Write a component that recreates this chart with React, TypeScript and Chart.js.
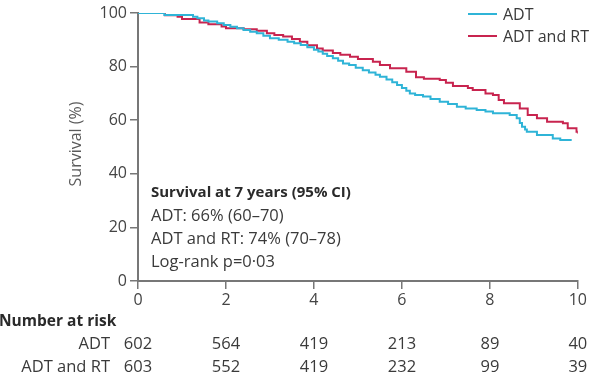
import React, { useEffect, useRef } from "react";
import { Chart, registerables } from "chart.js";

Chart.register(...registerables);

const seriesLabels = ["ADT", "ADT and RT"];
const seriesColors = ["#2fb4d7", "#c8244f"];

const adtTimes = [0, 0.6, 1.25, 1.35, 1.5, 1.6, 1.8, 1.95, 2.1, 2.25, 2.4, 2.55, 2.7, 2.85, 3.0, 3.2, 3.4, 3.55, 3.7, 3.85, 4.0, 4.1, 4.2, 4.3, 4.43, 4.55, 4.66, 4.8, 4.95, 5.11, 5.25, 5.4, 5.5, 5.65, 5.78, 5.89, 6.0, 6.1, 6.18, 6.3, 6.48, 6.65, 6.86, 7.05, 7.25, 7.45, 7.7, 7.9, 8.07, 8.45, 8.61, 8.68, 8.73, 8.8, 8.84, 9.07, 9.43, 9.6, 9.86];
const adtSurvival = [100, 99.3, 98.6, 98.0, 97.2, 96.8, 96.2, 95.5, 94.9, 94.3, 93.7, 93.0, 92.4, 91.5, 90.6, 90.0, 89.3, 88.7, 88.1, 87.2, 86.3, 85.6, 84.8, 84.0, 83.1, 82.2, 81.2, 80.6, 79.6, 78.6, 77.8, 77.0, 76.2, 75.2, 74.2, 73.1, 72.0, 71.0, 70.0, 69.4, 68.8, 67.9, 66.9, 66.0, 65.0, 64.4, 63.8, 63.2, 62.6, 61.9, 60.7, 59.0, 57.6, 56.5, 55.7, 54.5, 53.2, 52.6, 52.6];

const rtTimes = [0, 0.61, 0.9, 1.0, 1.4, 1.6, 1.9, 2.0, 2.4, 2.7, 2.93, 3.1, 3.3, 3.5, 3.68, 3.85, 4.07, 4.2, 4.43, 4.6, 4.82, 5.0, 5.34, 5.5, 5.73, 6.1, 6.32, 6.5, 6.86, 7.0, 7.16, 7.5, 7.61, 7.9, 8.07, 8.2, 8.32, 8.68, 8.86, 9.07, 9.3, 9.66, 9.77, 9.97, 10.0];
const rtSurvival = [100, 99.2, 98.6, 97.8, 96.5, 95.8, 95.0, 94.3, 93.9, 93.4, 92.4, 91.8, 91.2, 90.3, 89.3, 88.0, 86.8, 86.0, 85.1, 84.4, 83.7, 82.8, 81.8, 80.6, 79.4, 78.1, 76.0, 75.5, 75.0, 74.0, 72.8, 72.0, 71.3, 70.0, 69.4, 67.5, 66.3, 64.4, 61.9, 60.7, 59.4, 58.9, 57.0, 55.7, 55.0];

const xTickValues = [0, 2, 4, 6, 8, 10];
const riskAdt = [602, 564, 419, 213, 89, 40];
const riskRt = [603, 552, 419, 232, 99, 39];

const annotationTitle = "Survival at 7 years (95% CI)";
const annotationLines = ["ADT: 66% (60–70)", "ADT and RT: 74% (70–78)", "Log-rank p=0·03"];
const yAxisTitle = "Survival (%)";
const riskTitle = "Number at risk";

const FONT = "'Open Sans', sans-serif";
const TEXT = "#3a3a3a";

const overlayPlugin = {
  id: "overlay",
  afterDraw(chart: any) {
    const ctx = chart.ctx;
    const xs = chart.scales.x;
    ctx.save();
    // y axis title
    ctx.fillStyle = "#5a5a5a";
    ctx.font = `16px ${FONT}`;
    ctx.textAlign = "center";
    ctx.textBaseline = "middle";
    ctx.translate(76, 144);
    ctx.rotate(-Math.PI / 2);
    ctx.fillText(yAxisTitle, 0, 0);
    ctx.setTransform(1, 0, 0, 1, 0, 0);

    // legend
    const legendY = [14, 36];
    seriesLabels.forEach((lab, i) => {
      ctx.strokeStyle = seriesColors[i];
      ctx.lineWidth = 2;
      ctx.beginPath();
      ctx.moveTo(468, legendY[i]);
      ctx.lineTo(497, legendY[i]);
      ctx.stroke();
      ctx.fillStyle = TEXT;
      ctx.font = `16px ${FONT}`;
      ctx.textAlign = "left";
      ctx.textBaseline = "middle";
      ctx.fillText(lab, 503, legendY[i] + 1);
    });

    // annotation
    ctx.textAlign = "left";
    ctx.textBaseline = "middle";
    ctx.fillStyle = "#2a2a2a";
    ctx.font = `bold 15px ${FONT}`;
    ctx.fillText(annotationTitle, 151, 193);
    ctx.font = `16.5px ${FONT}`;
    ctx.fillStyle = TEXT;
    annotationLines.forEach((l, i) => ctx.fillText(l, 151, 216 + i * 23));

    // number at risk
    ctx.font = `bold 15.5px ${FONT}`;
    ctx.fillStyle = "#2a2a2a";
    ctx.fillText(riskTitle, -1, 322);
    ctx.font = `16.5px ${FONT}`;
    ctx.fillStyle = TEXT;
    ctx.textAlign = "right";
    ctx.fillText(seriesLabels[0], 110, 344);
    ctx.fillText(seriesLabels[1], 110, 367);
    ctx.textAlign = "center";
    xTickValues.forEach((t, i) => {
      const px = xs.getPixelForValue(t);
      ctx.fillText(String(riskAdt[i]), px, 344);
      ctx.fillText(String(riskRt[i]), px, 367);
    });
    ctx.restore();
  },
};

export default function App() {
  const ref = useRef<HTMLCanvasElement>(null);
  useEffect(() => {
    document.body.style.margin = "0";
    const canvas = ref.current!;
    const chart = new Chart(canvas, {
      type: "line",
      data: {
        datasets: [
          {
            label: seriesLabels[0],
            data: adtTimes.map((t, i) => ({ x: t, y: adtSurvival[i] })),
            borderColor: seriesColors[0],
            borderWidth: 2,
            pointRadius: 0,
            stepped: "before",
            fill: false,
          },
          {
            label: seriesLabels[1],
            data: rtTimes.map((t, i) => ({ x: t, y: rtSurvival[i] })),
            borderColor: seriesColors[1],
            borderWidth: 2,
            pointRadius: 0,
            stepped: "before",
            fill: false,
          },
        ],
      },
      options: {
        animation: false,
        responsive: false,
        maintainAspectRatio: false,
        layout: { padding: { left: 0, right: 11, top: 13, bottom: 78 } },
        plugins: { legend: { display: false }, tooltip: { enabled: false } },
        scales: {
          x: {
            type: "linear",
            min: 0,
            max: 10,
            afterFit: (s: any) => { s.height = 24; },
            ticks: { stepSize: 2, color: "#444", font: { family: FONT, size: 16 }, padding: 2 },
            grid: { drawOnChartArea: false, drawTicks: true, tickLength: 8, color: "#777", lineWidth: 1.5 },
            border: { color: "#777", width: 2 },
          },
          y: {
            min: 0,
            max: 100,
            afterFit: (s: any) => { s.width = 138; },
            ticks: { stepSize: 20, color: "#444", font: { family: FONT, size: 16 }, padding: 3 },
            grid: { drawOnChartArea: false, drawTicks: true, tickLength: 8, color: "#777", lineWidth: 1.5 },
            border: { color: "#777", width: 2 },
          },
        },
      },
      plugins: [overlayPlugin],
    });
    return () => chart.destroy();
  }, []);
  return (
    <div style={{ position: "relative", width: 589, height: 383 }}>
      <canvas ref={ref} width={589} height={383} style={{ display: "block", width: 589, height: 383 }} />
    </div>
  );
}
